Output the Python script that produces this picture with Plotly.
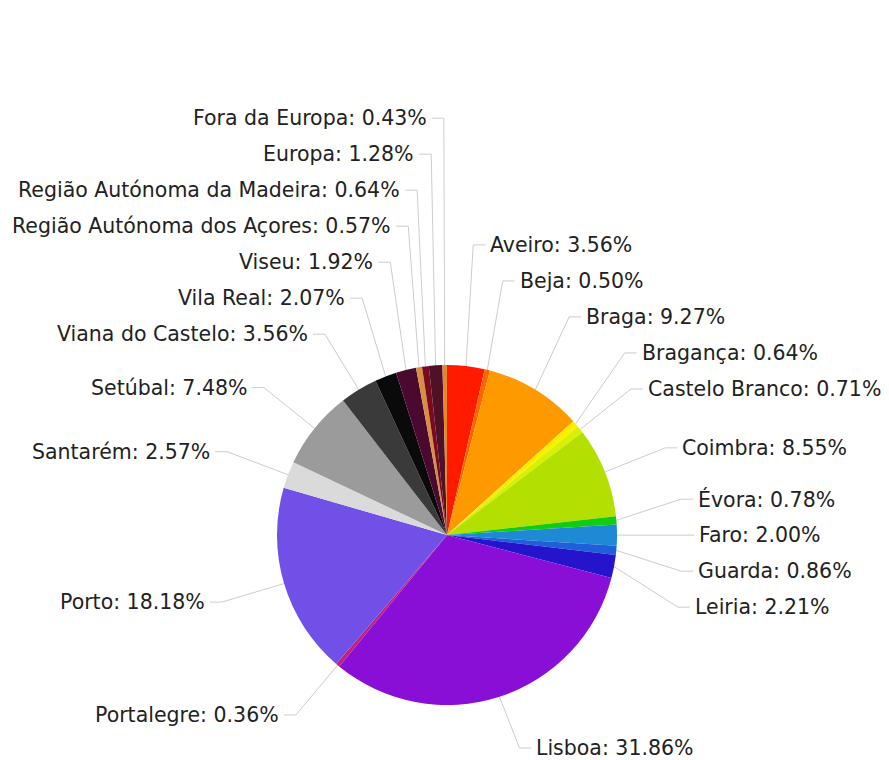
import math
import plotly.graph_objects as go

# ---- data -------------------------------------------------------------
labels = ["Aveiro", "Beja", "Braga", "Bragança", "Castelo Branco", "Coimbra",
          "Évora", "Faro", "Guarda", "Leiria", "Lisboa", "Portalegre", "Porto",
          "Santarém", "Setúbal", "Viana do Castelo", "Vila Real", "Viseu",
          "Região Autónoma dos Açores", "Região Autónoma da Madeira",
          "Europa", "Fora da Europa"]
percent = [3.56, 0.50, 9.27, 0.64, 0.71, 8.55,
           0.78, 2.00, 0.86, 2.21, 31.86, 0.36, 18.18,
           2.57, 7.48, 3.56, 2.07, 1.92,
           0.57, 0.64,
           1.28, 0.43]
colors = ["#ff1a00", "#ff6600", "#ff9900", "#ffee00", "#d6f200", "#b3e000",
          "#11cc11", "#1e8ad6", "#1e60d8", "#2414cc", "#8a0fd6", "#c0207a", "#7150e8",
          "#dadada", "#9b9b9b", "#3a3a3a", "#0a0a0a", "#4a0a30",
          "#d89040", "#7a0a22",
          "#501028", "#e08a30"]

# ---- layout geometry ------------------------------------------------------
PAGE_W, PAGE_H = 889, 760
OFF = 8                          # default body margin of the html page
W, H = PAGE_W - OFF, PAGE_H - OFF
CX, CY, R = 447 - OFF, 535 - OFF, 170   # pie centre / radius (figure px)
D = 235                          # radius of label anchor circle
GAP = 36                         # min vertical distance between labels
TAIL = 12                        # horizontal tail of the leader line
TXT_PAD = 3
Y_MIN, Y_MAX = 24 - OFF, 748 - OFF
FONT = dict(family="DejaVu Sans", size=20.5, color="#222222")

fig = go.Figure()
fig.add_trace(go.Pie(
    labels=labels, values=percent, sort=False, direction="clockwise",
    rotation=0, marker=dict(colors=colors, line=dict(width=0)),
    textinfo="none", showlegend=False,
    hovertemplate="%{label}: %{value:.2f}%<extra></extra>",
    domain=dict(x=[(CX - R) / W, (CX + R) / W],
                y=[1 - (CY + R) / H, 1 - (CY - R) / H]),
))

# ---- label placement computed from the data ---------------------------------
total = sum(percent)
items = []
cum = 0.0
for lab, v in zip(labels, percent):
    a = (cum + v / 2) / total * 2 * math.pi
    cum += v
    s, c = math.sin(a), math.cos(a)
    items.append(dict(lab=lab, v=v, ex=CX + R * s, ey=CY - R * c,
                      ax=CX + D * s, ay=CY - D * c,
                      side="right" if s >= 0 else "left"))

for side in ("right", "left"):
    grp = [it for it in items if it["side"] == side]
    grp.sort(key=lambda it: it["ay"])
    # label closest to the horizontal midline stays, others pushed away
    k = min(range(len(grp)), key=lambda i: abs(grp[i]["ay"] - CY))
    grp[k]["y"] = grp[k]["ay"]
    for i in range(k - 1, -1, -1):
        grp[i]["y"] = min(grp[i]["ay"], grp[i + 1]["y"] - GAP)
    for i in range(k + 1, len(grp)):
        grp[i]["y"] = max(grp[i]["ay"], grp[i - 1]["y"] + GAP)
    for it in grp:
        it["y"] = min(max(it["y"], Y_MIN), Y_MAX)

lx, ly = [], []
for it in items:
    sgn = 1 if it["side"] == "right" else -1
    lx += [it["ex"], it["ax"], it["ax"] + sgn * TAIL, None]
    ly += [it["ey"], it["y"], it["y"], None]
    fig.add_annotation(
        x=it["ax"] + sgn * (TAIL + TXT_PAD), y=it["y"], xref="x", yref="y",
        text=f"{it['lab']}: {it['v']:.2f}%", showarrow=False,
        xanchor="left" if sgn > 0 else "right", yanchor="middle",
        font=FONT)

fig.add_trace(go.Scatter(x=lx, y=ly, mode="lines",
                         line=dict(color="#cccccc", width=1),
                         hoverinfo="skip", showlegend=False))

fig.update_layout(
    width=W, height=H, margin=dict(l=0, r=0, t=0, b=0),
    paper_bgcolor="white", plot_bgcolor="rgba(0,0,0,0)",
    xaxis=dict(range=[0, W], visible=False, fixedrange=True),
    yaxis=dict(range=[H, 0], visible=False, fixedrange=True),
)
fig.write_html("out.html")
